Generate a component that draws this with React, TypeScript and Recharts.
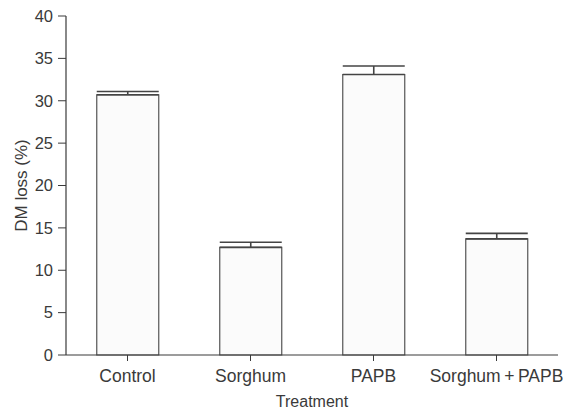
import { Bar, BarChart, ErrorBar, XAxis, YAxis } from "recharts";

const treatments = ["Control", "Sorghum", "PAPB", "Sorghum\u2009+\u2009PAPB"];
const dmLoss = [30.7, 12.7, 33.1, 13.7];
const dmLossSe = [0.4, 0.6, 1.0, 0.65];
const yTicks = [0, 5, 10, 15, 20, 25, 30, 35, 40];

const ink = "#3a3a3a";
const font = "'Liberation Sans', Arial, sans-serif";

const data = treatments.map((name, i) => ({
  name,
  value: dmLoss[i],
  err: [0, dmLossSe[i]],
}));

function YLabel({ viewBox }: any) {
  const x = viewBox.x + 21;
  const y = viewBox.y + viewBox.height / 2;
  return (
    <text
      x={x}
      y={y}
      transform={`rotate(-90, ${x}, ${y})`}
      textAnchor="middle"
      dominantBaseline="central"
      fontSize={17}
      fill={ink}
      fontFamily={font}
    >
      DM loss (%)
    </text>
  );
}

export default function App() {
  return (
    <div style={{ position: "absolute", left: 0, top: 0, background: "#fff" }}>
      <BarChart
        width={563}
        height={409}
        data={data}
        margin={{ top: 16, right: 5, left: 0, bottom: 0 }}
        barCategoryGap="25%"
        style={{ fontFamily: font }}
      >
        <XAxis
          dataKey="name"
          height={54}
          tickSize={6}
          tickMargin={9}
          tick={{ fontSize: 17.5, fill: ink }}
          tickLine={{ stroke: ink }}
          axisLine={{ stroke: ink, strokeWidth: 1.2 }}
          label={{ value: "Treatment", position: "insideBottom", offset: 2, fontSize: 16, fill: ink }}
        />
        <XAxis
          xAxisId="top"
          dataKey="name"
          orientation="top"
          height={0}
          tick={false}
          tickLine={false}
          axisLine={{ stroke: ink, strokeWidth: 1.2 }}
        />
        <YAxis
          width={66}
          domain={[0, 40]}
          ticks={yTicks}
          interval={0}
          tickSize={8}
          tickMargin={5}
          tick={{ fontSize: 16.5, fill: ink }}
          tickLine={{ stroke: ink }}
          axisLine={{ stroke: ink, strokeWidth: 1.2 }}
          label={<YLabel />}
        />
        <YAxis
          yAxisId="right"
          orientation="right"
          width={0}
          domain={[0, 40]}
          tick={false}
          tickLine={false}
          axisLine={{ stroke: ink, strokeWidth: 1.2 }}
        />
        <Bar dataKey="value" fill="#fbfbfb" stroke="#555" strokeWidth={1.2} isAnimationActive={false}>
          <ErrorBar dataKey="err" direction="y" width={31} stroke="#444" strokeWidth={1.6} />
        </Bar>
      </BarChart>
    </div>
  );
}
